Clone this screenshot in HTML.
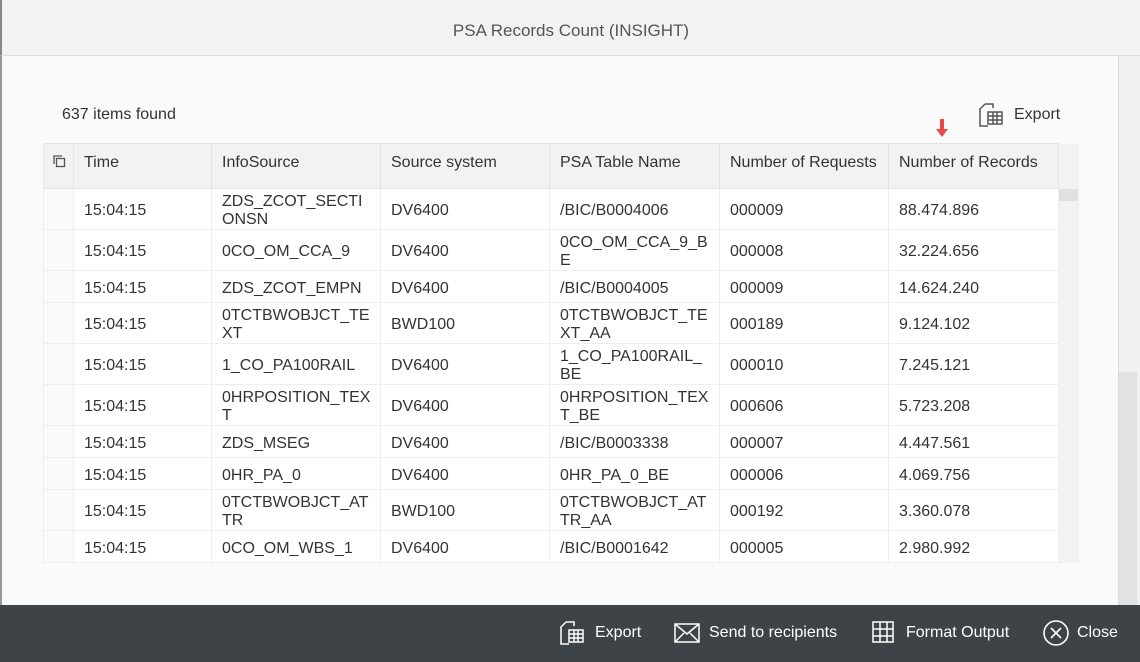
<!DOCTYPE html>
<html><head><style>
*{margin:0;padding:0;box-sizing:border-box}
body{width:1140px;height:662px;overflow:hidden;background:#fafafa;font-family:"Liberation Sans",sans-serif;color:#333;position:relative}
.hdr{position:absolute;left:0;top:0;width:1140px;height:56px;background:#f2f2f2;border-bottom:1px solid #ddd;border-left:2px solid #888;text-align:center;font-size:17px;line-height:61px;color:#555;overflow:hidden}
.lb{position:absolute;left:0;top:56px;width:2px;height:550px;background:#999}
.rb{position:absolute;left:1118px;top:56px;width:22px;height:550px;background:#f0f0f0;border-left:1px solid #ddd}
.thumb{position:absolute;left:1119px;top:372px;width:18px;height:234px;background:#e2e2e2}
.cnt{position:absolute;left:62px;top:106px;font-size:16px}
.exp{position:absolute;left:978px;top:102px;font-size:16px;display:flex;align-items:center;gap:10px}
.arrow{position:absolute;left:936px;top:129px;width:0;height:0;border-left:6px solid transparent;border-right:6px solid transparent;border-top:8px solid #e84a4a}
.arrow:before{content:"";position:absolute;left:-2px;top:-18px;width:4px;height:11px;background:#e84a4a}
table{position:absolute;left:43px;top:143px;border-collapse:collapse;font-size:16px;width:1035px;table-layout:fixed}
th{background:#f2f2f2;font-weight:normal;text-align:left;height:45px;padding-left:10px;padding-bottom:6px;border:1px solid #e5e5e5;color:#333}
td{background:#fff;padding-left:10px;padding-top:4px;border:1px solid #eee;line-height:18px;vertical-align:middle}
td.c0{background:#fafafa}
td.sc{background:#f2f2f2;border:none;padding:0}
tr.t td{height:41px}tr.s td{height:32px}
.foot{position:absolute;left:0;top:605px;width:1140px;height:57px;background:#3d4347;color:#fff;font-size:16px}
.foot span{position:absolute;top:19px}
</style></head><body>
<div class="hdr">PSA Records Count (INSIGHT)</div>
<div class="lb"></div><div class="rb"></div><div class="thumb"></div>
<div class="cnt">637 items found</div>
<div class="exp"><svg width="26" height="26" viewBox="0 0 26 26" fill="none" stroke="#555" stroke-width="1.5"><path d="M7 2h8v4M7 2L2 7v17h8"/><rect x="10" y="10" width="14" height="12"/><path d="M10 14h14M10 18h14M15 10v12M19 10v12"/></svg>Export</div>
<div class="arrow"></div>
<table>
<colgroup><col style="width:30px"><col style="width:138px"><col style="width:169px"><col style="width:169px"><col style="width:170px"><col style="width:169px"><col style="width:170px"><col style="width:20px"></colgroup>
<tr><th style="padding-left:8px"><svg width="14" height="14" viewBox="0 0 14 14" fill="none" stroke="#555" stroke-width="1.3"><rect x="4.5" y="4.5" width="8" height="8"/><path d="M2 10V2h8"/></svg></th><th>Time</th><th>InfoSource</th><th>Source system</th><th>PSA Table Name</th><th>Number of Requests</th><th>Number of Records</th><th style="border:none;background:#f2f2f2"></th></tr>
<tr class="t"><td class="c0"></td><td>15:04:15</td><td>ZDS_ZCOT_SECTI<br>ONSN</td><td>DV6400</td><td>/BIC/B0004006</td><td>000009</td><td>88.474.896</td><td class="sc" style="vertical-align:top"><div style="height:12px;background:#e0e0e0"></div></td></tr>
<tr class="t"><td class="c0"></td><td>15:04:15</td><td>0CO_OM_CCA_9</td><td>DV6400</td><td>0CO_OM_CCA_9_B<br>E</td><td>000008</td><td>32.224.656</td><td class="sc"></td></tr>
<tr class="s"><td class="c0"></td><td>15:04:15</td><td>ZDS_ZCOT_EMPN</td><td>DV6400</td><td>/BIC/B0004005</td><td>000009</td><td>14.624.240</td><td class="sc"></td></tr>
<tr class="t"><td class="c0"></td><td>15:04:15</td><td>0TCTBWOBJCT_TE<br>XT</td><td>BWD100</td><td>0TCTBWOBJCT_TE<br>XT_AA</td><td>000189</td><td>9.124.102</td><td class="sc"></td></tr>
<tr class="t"><td class="c0"></td><td>15:04:15</td><td>1_CO_PA100RAIL</td><td>DV6400</td><td>1_CO_PA100RAIL_<br>BE</td><td>000010</td><td>7.245.121</td><td class="sc"></td></tr>
<tr class="t"><td class="c0"></td><td>15:04:15</td><td>0HRPOSITION_TEX<br>T</td><td>DV6400</td><td>0HRPOSITION_TEX<br>T_BE</td><td>000606</td><td>5.723.208</td><td class="sc"></td></tr>
<tr class="s"><td class="c0"></td><td>15:04:15</td><td>ZDS_MSEG</td><td>DV6400</td><td>/BIC/B0003338</td><td>000007</td><td>4.447.561</td><td class="sc"></td></tr>
<tr class="s"><td class="c0"></td><td>15:04:15</td><td>0HR_PA_0</td><td>DV6400</td><td>0HR_PA_0_BE</td><td>000006</td><td>4.069.756</td><td class="sc"></td></tr>
<tr class="t"><td class="c0"></td><td>15:04:15</td><td>0TCTBWOBJCT_AT<br>TR</td><td>BWD100</td><td>0TCTBWOBJCT_AT<br>TR_AA</td><td>000192</td><td>3.360.078</td><td class="sc"></td></tr>
<tr class="s"><td class="c0"></td><td>15:04:15</td><td>0CO_OM_WBS_1</td><td>DV6400</td><td>/BIC/B0001642</td><td>000005</td><td>2.980.992</td><td class="sc"></td></tr>
</table>
<div class="foot">
<svg style="position:absolute;left:558px;top:14px" width="28" height="28" viewBox="0 0 28 28" fill="none" stroke="#fff" stroke-width="1.5"><path d="M8 3h8v4M8 3L3 8v17h8"/><rect x="11" y="11" width="14" height="12"/><path d="M11 15h14M11 19h14M16 11v12M20 11v12"/></svg>
<span style="left:595px">Export</span>
<svg style="position:absolute;left:674px;top:18px" width="26" height="20" viewBox="0 0 26 20" fill="none" stroke="#fff" stroke-width="1.5"><rect x="1" y="1" width="24" height="18"/><path d="M1 1l12 10L25 1M1 19l9-9M25 19l-9-9"/></svg>
<span style="left:709px">Send to recipients</span>
<svg style="position:absolute;left:872px;top:16px" width="22" height="22" viewBox="0 0 22 22" fill="none" stroke="#fff" stroke-width="1.5"><rect x="1" y="1" width="20" height="20"/><path d="M1 8h20M1 15h20M8 1v20M15 1v20"/></svg>
<span style="left:906px">Format Output</span>
<svg style="position:absolute;left:1042px;top:14px" width="28" height="28" viewBox="0 0 28 28" fill="none" stroke="#fff" stroke-width="1.6"><circle cx="14" cy="14" r="12"/><path d="M9 9l10 10M19 9L9 19"/></svg>
<span style="left:1077px">Close</span>
</div>
</body></html>
